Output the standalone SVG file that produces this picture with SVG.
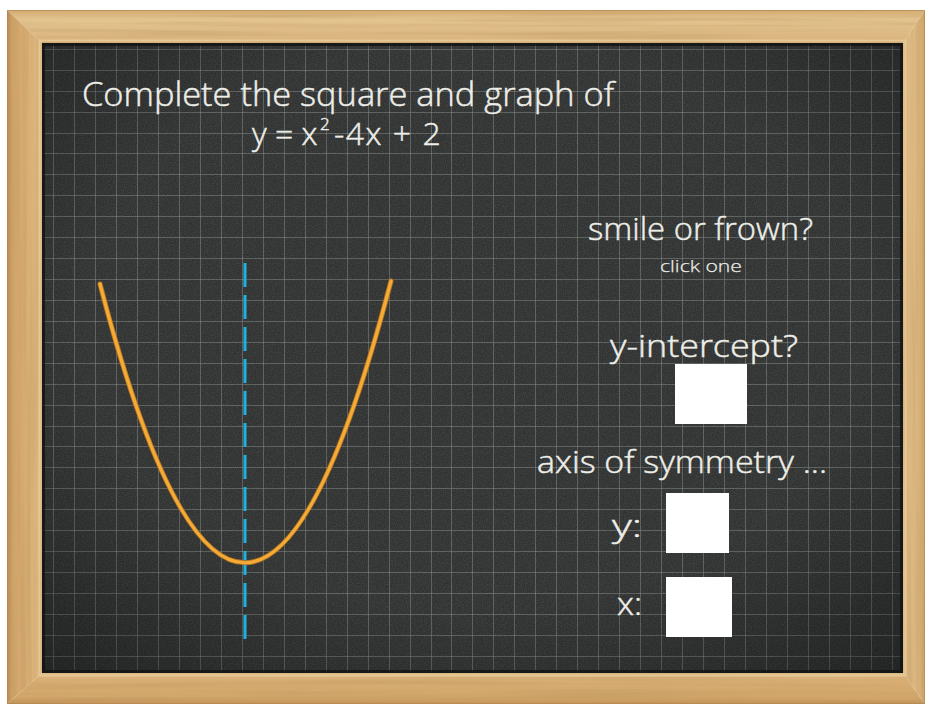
<svg xmlns="http://www.w3.org/2000/svg" width="928" height="704" viewBox="0 0 928 704">
  <style>
    .chalk { fill: #EEEEE8; stroke: #EEEEE8; stroke-width: 0.45; font-family: "Open Sans", "Lato", "Noto Sans", sans-serif; font-weight: 300; }
    .grid line { stroke: #A4A7A2; stroke-opacity: 0.38; stroke-width: 1; }
    .box { fill: #FFFFFF; }
  </style>
  <defs>
    <linearGradient id="woodTop" x1="0" y1="0" x2="0" y2="1">
      <stop offset="0" stop-color="#D4AB72"/>
      <stop offset="0.3" stop-color="#E3C490"/>
      <stop offset="0.75" stop-color="#DDB882"/>
      <stop offset="1" stop-color="#D9B27B"/>
    </linearGradient>
    <linearGradient id="woodLeft" x1="0" y1="0" x2="1" y2="0">
      <stop offset="0" stop-color="#B98A52"/>
      <stop offset="0.15" stop-color="#CFA268"/>
      <stop offset="0.6" stop-color="#D9AF76"/>
      <stop offset="1" stop-color="#DDB982"/>
    </linearGradient>
    <linearGradient id="woodBottom" x1="0" y1="0" x2="0" y2="1">
      <stop offset="0" stop-color="#DDBC86"/>
      <stop offset="0.2" stop-color="#D8AE74"/>
      <stop offset="0.8" stop-color="#D2A66B"/>
      <stop offset="1" stop-color="#C4945A"/>
    </linearGradient>
    <linearGradient id="woodRight" x1="0" y1="0" x2="1" y2="0">
      <stop offset="0" stop-color="#DDBB85"/>
      <stop offset="0.6" stop-color="#DCB780"/>
      <stop offset="1" stop-color="#CFA56C"/>
    </linearGradient>
    <radialGradient id="vignette" cx="0.5" cy="0.45" r="0.75">
      <stop offset="0.6" stop-color="#000" stop-opacity="0"/>
      <stop offset="1" stop-color="#000" stop-opacity="0.35"/>
    </radialGradient>
    <filter id="grainH" x="0" y="0" width="100%" height="100%">
      <feTurbulence type="fractalNoise" baseFrequency="0.004 0.22" numOctaves="2" seed="4"/>
      <feColorMatrix type="matrix" values="0 0 0 0 0.45  0 0 0 0 0.28  0 0 0 0 0.1  1.3 0 0 0 -0.55"/>
    </filter>
    <filter id="grainV" x="0" y="0" width="100%" height="100%">
      <feTurbulence type="fractalNoise" baseFrequency="0.22 0.004" numOctaves="2" seed="9"/>
      <feColorMatrix type="matrix" values="0 0 0 0 0.45  0 0 0 0 0.28  0 0 0 0 0.1  1.3 0 0 0 -0.55"/>
    </filter>
    <filter id="chalkNoise" x="0" y="0" width="100%" height="100%">
      <feTurbulence type="fractalNoise" baseFrequency="0.9" numOctaves="2" seed="2"/>
      <feColorMatrix type="matrix" values="0 0 0 0 1  0 0 0 0 1  0 0 0 0 1  0.35 0 0 0 -0.12"/>
    </filter>
    <clipPath id="clipTop"><polygon points="7,10 925,10 903,43 42,43"/></clipPath>
    <clipPath id="clipBottom"><polygon points="7,704 42,673 903,673 925,704"/></clipPath>
    <clipPath id="clipLeft"><polygon points="7,10 42,43 42,673 7,704"/></clipPath>
    <clipPath id="clipRight"><polygon points="925,10 925,704 903,673 903,43"/></clipPath>
  </defs>

  <rect x="0" y="0" width="928" height="704" fill="#FFFFFF"/>

  <!-- Wooden frame -->
  <g id="frame">
    <polygon points="7,10 925,10 903,43 42,43" fill="url(#woodTop)"/>
    <polygon points="7,10 42,43 42,673 7,704" fill="url(#woodLeft)"/>
    <polygon points="7,704 42,673 903,673 925,704" fill="url(#woodBottom)"/>
    <polygon points="925,10 925,704 903,673 903,43" fill="url(#woodRight)"/>
    <rect x="7" y="10" width="918" height="33" filter="url(#grainH)" clip-path="url(#clipTop)" opacity="0.6"/>
    <rect x="7" y="673" width="918" height="31" filter="url(#grainH)" clip-path="url(#clipBottom)" opacity="0.6"/>
    <rect x="7" y="10" width="35" height="694" filter="url(#grainV)" clip-path="url(#clipLeft)" opacity="0.6"/>
    <rect x="903" y="10" width="22" height="694" filter="url(#grainV)" clip-path="url(#clipRight)" opacity="0.6"/>
    <rect x="7.5" y="10.5" width="917" height="693" fill="none" stroke="#B3854E" stroke-opacity="0.6" stroke-width="1"/>
    <rect x="39.5" y="40.5" width="866" height="635" fill="none" stroke="#E8CD9B" stroke-opacity="0.8" stroke-width="2"/>
  </g>

  <!-- Chalkboard -->
  <g id="board">
    <rect x="42" y="43" width="861" height="630" fill="#303332"/>
    <rect x="42" y="43" width="861" height="630" filter="url(#chalkNoise)" opacity="0.5"/>
    <g class="grid">
      <line x1="53.5" y1="43" x2="53.5" y2="673"/>
      <line x1="74.5" y1="43" x2="74.5" y2="673"/>
      <line x1="95.5" y1="43" x2="95.5" y2="673"/>
      <line x1="116.5" y1="43" x2="116.5" y2="673"/>
      <line x1="137.5" y1="43" x2="137.5" y2="673"/>
      <line x1="158.5" y1="43" x2="158.5" y2="673"/>
      <line x1="179.5" y1="43" x2="179.5" y2="673"/>
      <line x1="200.5" y1="43" x2="200.5" y2="673"/>
      <line x1="221.5" y1="43" x2="221.5" y2="673"/>
      <line x1="242.5" y1="43" x2="242.5" y2="673"/>
      <line x1="263.5" y1="43" x2="263.5" y2="673"/>
      <line x1="284.5" y1="43" x2="284.5" y2="673"/>
      <line x1="305.5" y1="43" x2="305.5" y2="673"/>
      <line x1="326.5" y1="43" x2="326.5" y2="673"/>
      <line x1="347.5" y1="43" x2="347.5" y2="673"/>
      <line x1="368.5" y1="43" x2="368.5" y2="673"/>
      <line x1="389.5" y1="43" x2="389.5" y2="673"/>
      <line x1="410.5" y1="43" x2="410.5" y2="673"/>
      <line x1="431.5" y1="43" x2="431.5" y2="673"/>
      <line x1="451.5" y1="43" x2="451.5" y2="673"/>
      <line x1="472.5" y1="43" x2="472.5" y2="673"/>
      <line x1="493.5" y1="43" x2="493.5" y2="673"/>
      <line x1="514.5" y1="43" x2="514.5" y2="673"/>
      <line x1="535.5" y1="43" x2="535.5" y2="673"/>
      <line x1="556.5" y1="43" x2="556.5" y2="673"/>
      <line x1="577.5" y1="43" x2="577.5" y2="673"/>
      <line x1="598.5" y1="43" x2="598.5" y2="673"/>
      <line x1="619.5" y1="43" x2="619.5" y2="673"/>
      <line x1="640.5" y1="43" x2="640.5" y2="673"/>
      <line x1="661.5" y1="43" x2="661.5" y2="673"/>
      <line x1="682.5" y1="43" x2="682.5" y2="673"/>
      <line x1="703.5" y1="43" x2="703.5" y2="673"/>
      <line x1="724.5" y1="43" x2="724.5" y2="673"/>
      <line x1="745.5" y1="43" x2="745.5" y2="673"/>
      <line x1="766.5" y1="43" x2="766.5" y2="673"/>
      <line x1="787.5" y1="43" x2="787.5" y2="673"/>
      <line x1="808.5" y1="43" x2="808.5" y2="673"/>
      <line x1="829.5" y1="43" x2="829.5" y2="673"/>
      <line x1="850.5" y1="43" x2="850.5" y2="673"/>
      <line x1="871.5" y1="43" x2="871.5" y2="673"/>
      <line x1="892.5" y1="43" x2="892.5" y2="673"/>

      <line x1="42" y1="49.5" x2="903" y2="49.5"/>
      <line x1="42" y1="70.5" x2="903" y2="70.5"/>
      <line x1="42" y1="91.5" x2="903" y2="91.5"/>
      <line x1="42" y1="112.5" x2="903" y2="112.5"/>
      <line x1="42" y1="133.5" x2="903" y2="133.5"/>
      <line x1="42" y1="153.5" x2="903" y2="153.5"/>
      <line x1="42" y1="174.5" x2="903" y2="174.5"/>
      <line x1="42" y1="195.5" x2="903" y2="195.5"/>
      <line x1="42" y1="216.5" x2="903" y2="216.5"/>
      <line x1="42" y1="237.5" x2="903" y2="237.5"/>
      <line x1="42" y1="258.5" x2="903" y2="258.5"/>
      <line x1="42" y1="279.5" x2="903" y2="279.5"/>
      <line x1="42" y1="300.5" x2="903" y2="300.5"/>
      <line x1="42" y1="321.5" x2="903" y2="321.5"/>
      <line x1="42" y1="342.5" x2="903" y2="342.5"/>
      <line x1="42" y1="363.5" x2="903" y2="363.5"/>
      <line x1="42" y1="384.5" x2="903" y2="384.5"/>
      <line x1="42" y1="405.5" x2="903" y2="405.5"/>
      <line x1="42" y1="426.5" x2="903" y2="426.5"/>
      <line x1="42" y1="446.5" x2="903" y2="446.5"/>
      <line x1="42" y1="467.5" x2="903" y2="467.5"/>
      <line x1="42" y1="488.5" x2="903" y2="488.5"/>
      <line x1="42" y1="509.5" x2="903" y2="509.5"/>
      <line x1="42" y1="530.5" x2="903" y2="530.5"/>
      <line x1="42" y1="551.5" x2="903" y2="551.5"/>
      <line x1="42" y1="572.5" x2="903" y2="572.5"/>
      <line x1="42" y1="593.5" x2="903" y2="593.5"/>
      <line x1="42" y1="614.5" x2="903" y2="614.5"/>
      <line x1="42" y1="635.5" x2="903" y2="635.5"/>
      <line x1="42" y1="656.5" x2="903" y2="656.5"/>
    </g>
    <rect x="42" y="43" width="861" height="630" fill="url(#vignette)"/>
    <rect x="43.5" y="44.5" width="858" height="627" fill="none" stroke="#111312" stroke-opacity="0.8" stroke-width="3"/>
  </g>

  <!-- Title -->
  <g id="title">
    <text class="chalk" x="82" y="106" font-size="33" textLength="532" lengthAdjust="spacingAndGlyphs">Complete the square and graph of</text>
    <text class="chalk" x="252" y="145" font-size="32">y = x<tspan x="320" dy="-15" font-size="17">2</tspan><tspan x="334" dy="15" font-size="32" letter-spacing="1.5">-4x + 2</tspan></text>
  </g>

  <!-- Graph -->
  <g id="graph">
    <line id="axis" x1="245" y1="263" x2="245" y2="645" stroke="#1DB2E2" stroke-width="3" stroke-dasharray="24 8"/>
    <path id="parabola" d="M100,284 Q245,843 391,281" fill="none" stroke="#B8761E" stroke-width="5" stroke-linecap="round"/>
    <path d="M100,284 Q245,843 391,281" fill="none" stroke="#F4AB38" stroke-width="3.2" stroke-linecap="round"/>
  </g>

  <!-- Questions -->
  <g id="q-smile">
    <text class="chalk" x="588" y="240" font-size="31" textLength="225" lengthAdjust="spacingAndGlyphs">smile or frown?</text>
    <text class="chalk" x="660" y="272" font-size="17" textLength="82" lengthAdjust="spacingAndGlyphs" style="stroke-width:0.25">click one</text>
  </g>
  <g id="q-intercept">
    <text class="chalk" x="610" y="357" font-size="31" textLength="188" lengthAdjust="spacingAndGlyphs">y-intercept?</text>
    <rect class="box" x="675" y="364" width="72" height="60"/>
  </g>
  <g id="q-axis">
    <text class="chalk" x="537" y="473" font-size="31" textLength="290" lengthAdjust="spacingAndGlyphs">axis of symmetry ...</text>
  </g>
  <g id="q-y">
    <text class="chalk" x="612" y="537" font-size="31" textLength="30" lengthAdjust="spacingAndGlyphs">y:</text>
    <rect class="box" x="666" y="493" width="63" height="60"/>
  </g>
  <g id="q-x">
    <text class="chalk" x="617" y="615" font-size="31" textLength="25" lengthAdjust="spacingAndGlyphs">x:</text>
    <rect class="box" x="666" y="577" width="66" height="60"/>
  </g>
</svg>
